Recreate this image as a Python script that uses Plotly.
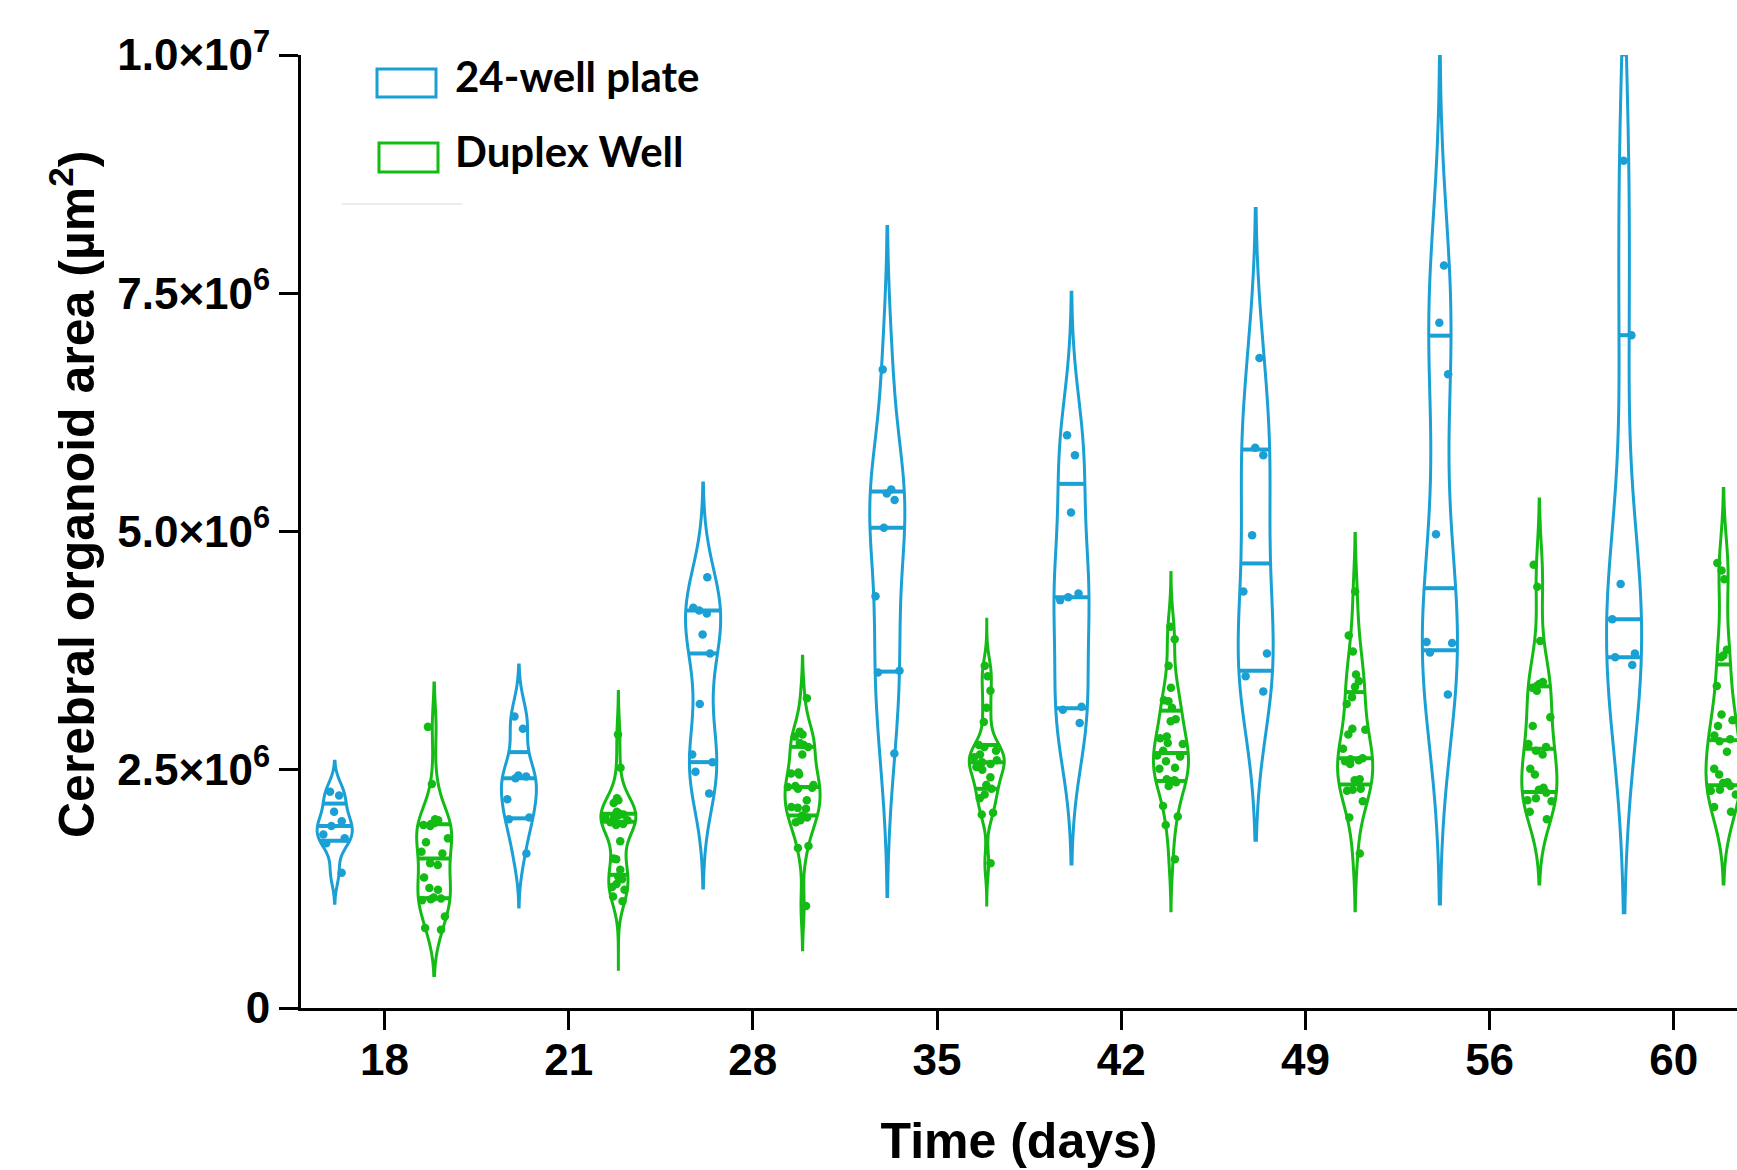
import math
import numpy as np
import plotly.graph_objects as go

# ---------------- data (µm²) ----------------
DAYS = ["18", "21", "28", "35", "42", "49", "56", "60"]

plate_18 = [2.27e6, 2.23e6, 2.06e6, 1.96e6, 1.91e6, 1.82e6, 1.78e6, 1.73e6, 1.42e6]
plate_21 = [3.06e6, 2.93e6, 2.44e6, 2.43e6, 2.41e6, 2.19e6, 2.00e6, 1.98e6, 1.62e6]
plate_28 = [4.52e6, 4.20e6, 4.17e6, 4.14e6, 3.92e6, 3.72e6, 3.19e6, 2.66e6, 2.58e6, 2.48e6, 2.25e6]
plate_35 = [6.70e6, 5.44e6, 5.40e6, 5.33e6, 5.04e6, 4.32e6, 3.54e6, 3.52e6, 2.67e6]
plate_42 = [6.01e6, 5.80e6, 5.20e6, 4.35e6, 4.31e6, 4.28e6, 3.16e6, 3.13e6, 2.99e6]
plate_49 = [6.82e6, 5.88e6, 5.80e6, 4.96e6, 4.37e6, 3.72e6, 3.48e6, 3.32e6]
plate_56 = [7.79e6, 7.19e6, 6.65e6, 4.97e6, 3.84e6, 3.83e6, 3.73e6, 3.29e6]
plate_60 = [8.89e6, 7.06e6, 4.45e6, 4.08e6, 3.72e6, 3.68e6, 3.60e6]

duplex_18 = [2.95e6, 2.35e6, 1.98e6, 1.97e6, 1.94e6, 1.93e6, 1.92e6, 1.91e6, 1.78e6, 1.74e6,
             1.64e6, 1.62e6, 1.52e6, 1.50e6, 1.37e6, 1.26e6, 1.24e6, 1.16e6, 1.15e6, 1.14e6,
             1.13e6, 0.96e6, 0.84e6, 0.82e6]
duplex_21 = [2.87e6, 2.52e6, 2.20e6, 2.18e6, 2.15e6, 2.06e6, 2.04e6, 2.03e6, 2.02e6, 2.01e6,
             2.00e6, 1.99e6, 1.97e6, 1.96e6, 1.95e6, 1.93e6, 1.92e6, 1.75e6, 1.57e6, 1.56e6,
             1.45e6, 1.38e6, 1.35e6, 1.30e6, 1.27e6, 1.24e6, 1.17e6, 1.12e6]
duplex_28 = [3.25e6, 2.90e6, 2.87e6, 2.85e6, 2.78e6, 2.76e6, 2.74e6, 2.66e6, 2.47e6, 2.46e6,
             2.45e6, 2.34e6, 2.33e6, 2.32e6, 2.31e6, 2.30e6, 2.18e6, 2.11e6, 2.10e6, 2.09e6,
             2.02e6, 2.00e6, 1.97e6, 1.95e6, 1.70e6, 1.68e6, 1.07e6]
duplex_35 = [3.59e6, 3.48e6, 3.33e6, 3.15e6, 3.00e6, 2.76e6, 2.74e6, 2.70e6, 2.66e6, 2.63e6,
             2.60e6, 2.58e6, 2.56e6, 2.53e6, 2.50e6, 2.42e6, 2.34e6, 2.30e6, 2.24e6, 2.20e6,
             2.05e6, 2.03e6, 1.52e6]
duplex_42 = [4.00e6, 3.87e6, 3.59e6, 3.36e6, 3.23e6, 3.22e6, 3.15e6, 3.03e6, 3.01e6, 2.85e6,
             2.83e6, 2.78e6, 2.77e6, 2.70e6, 2.65e6, 2.64e6, 2.59e6, 2.52e6, 2.51e6, 2.40e6,
             2.39e6, 2.38e6, 2.37e6, 2.33e6, 2.12e6, 2.01e6, 1.92e6, 1.56e6]
duplex_49 = [4.37e6, 3.91e6, 3.74e6, 3.50e6, 3.43e6, 3.37e6, 3.26e6, 3.19e6, 2.93e6, 2.92e6,
             2.87e6, 2.72e6, 2.62e6, 2.61e6, 2.60e6, 2.59e6, 2.56e6, 2.40e6, 2.39e6, 2.30e6,
             2.29e6, 2.28e6, 2.17e6, 2.00e6, 1.62e6]
duplex_56 = [4.65e6, 4.42e6, 3.85e6, 3.42e6, 3.40e6, 3.38e6, 3.36e6, 3.33e6, 3.05e6, 2.96e6,
             2.77e6, 2.74e6, 2.70e6, 2.66e6, 2.51e6, 2.45e6, 2.31e6, 2.29e6, 2.26e6, 2.20e6,
             2.18e6, 2.17e6, 2.06e6, 1.98e6]
duplex_60 = [4.67e6, 4.59e6, 4.50e6, 3.76e6, 3.70e6, 3.68e6, 3.38e6, 3.08e6, 3.02e6, 2.96e6,
             2.86e6, 2.82e6, 2.80e6, 2.69e6, 2.51e6, 2.45e6, 2.37e6, 2.36e6, 2.33e6, 2.29e6,
             2.28e6, 2.24e6, 2.11e6, 2.06e6]

# violin extents (tails)
plate_span_lo = [1.10e6, 1.06e6, 1.26e6, 1.17e6, 1.51e6, 1.76e6, 1.09e6, 1.00e6]
plate_span_hi = [2.59e6, 3.60e6, 5.51e6, 8.20e6, 7.51e6, 8.39e6, 10.0e6, 10.0e6]
duplex_span_lo = [0.34e6, 0.39e6, 0.61e6, 1.08e6, 1.02e6, 1.02e6, 1.30e6, 1.30e6]
duplex_span_hi = [3.41e6, 3.32e6, 3.69e6, 4.08e6, 4.57e6, 4.98e6, 5.34e6, 5.45e6]

Y_TICKS = [0, 2.5e6, 5.0e6, 7.5e6, 1.0e7]
Y_TICK_TEXT = ["0", "2.5×10<sup>6</sup>", "5.0×10<sup>6</sup>", "7.5×10<sup>6</sup>", "1.0×10<sup>7</sup>"]

SERIES_NAMES = ["24-well plate", "Duplex Well"]

# ---------------- styling ----------------
W, H = 1737, 1170
ML, MR, MT, MB = 301, 0, 55, 162
BLUE = "#1aa0d4"
GREEN = "#14bb14"
OFFSET = 0.27
VWIDTH = 0.19
BW_FACTOR = 0.78
TICKFONT = dict(family="Liberation Sans, Arial", size=44, color="black", weight="bold")
TITLEFONT = dict(family="Liberation Sans, Arial", size=50, color="black", weight="bold")
LEGENDFONT = dict(family="Lato", size=42, color="black", weight="bold")

groups = [
    dict(name=SERIES_NAMES[0], color=BLUE, off=-OFFSET,
         series=[plate_18, plate_21, plate_28, plate_35, plate_42, plate_49, plate_56, plate_60],
         lo=plate_span_lo, hi=plate_span_hi),
    dict(name=SERIES_NAMES[1], color=GREEN, off=OFFSET,
         series=[duplex_18, duplex_21, duplex_28, duplex_35, duplex_42, duplex_49, duplex_56, duplex_60],
         lo=duplex_span_lo, hi=duplex_span_hi),
]

PW = W - ML - MR
PH = H - MT - MB


def px_x(px):
    return (px - ML) / PW


def px_y(py):
    return 1 - (py - MT) / PH


def silverman(vals):
    v = np.sort(np.asarray(vals, float))
    n = len(v)
    sd = v.std(ddof=1)
    q1, q3 = np.percentile(v, [25, 75], method="hazen")
    a = min(sd, (q3 - q1) / 1.349) if q3 > q1 else sd
    return max(1.059 * a * n ** -0.2, (v.max() - v.min()) / 100)


def half_widths(vals, bw, lo, hi, qs, half):
    v = np.asarray(vals, float)

    def kde(t):
        t = np.atleast_1d(np.asarray(t, float))[:, None]
        return np.exp(-0.5 * ((t - v) / bw) ** 2).sum(axis=1) / (len(v) * bw * math.sqrt(2 * math.pi))

    dist = hi - lo
    n = math.ceil(dist / (bw / 3))
    step = dist / n
    grid = lo + step * np.arange(n + 1)
    return half * kde(qs) / kde(grid).max()


fig = go.Figure()
line_traces = []
for g in groups:
    lx, ly = [], []
    for i, vals in enumerate(g["series"]):
        pos = i + g["off"]
        bw = BW_FACTOR * silverman(vals)
        lo, hi = g["lo"][i], g["hi"][i]
        fig.add_trace(go.Violin(
            x=[pos] * len(vals), y=vals,
            name=g["name"], legendgroup=g["name"], showlegend=False,
            line=dict(color=g["color"], width=3),
            fillcolor="rgba(255,255,255,0)",
            width=VWIDTH, bandwidth=bw,
            spanmode="manual", span=[lo, hi],
            points="all", pointpos=0, jitter=0.9,
            marker=dict(color=g["color"], size=8.5),
            box=dict(visible=False), meanline=dict(visible=False),
            hoverinfo="y",
        ))
        qs = np.percentile(vals, [25, 50, 75], method="weibull")
        hw = half_widths(vals, bw, lo, hi, qs, VWIDTH / 2)
        for q, h in zip(qs, hw):
            lx += [pos - h, pos + h, None]
            ly += [q, q, None]
    line_traces.append(go.Scatter(x=lx, y=ly, mode="lines", showlegend=False,
                                  line=dict(color=g["color"], width=4), hoverinfo="skip"))
for t in line_traces:
    fig.add_trace(t)

# ---- legend (outlined key boxes + labels) ----
legend_boxes = [(377, 69, 436, 97), (379, 143, 438, 172)]
legend_text_y = [76, 151]
for g, (x0, y0, x1, y1), ty in zip(groups, legend_boxes, legend_text_y):
    fig.add_shape(type="rect", xref="paper", yref="paper",
                  x0=px_x(x0), x1=px_x(x1), y0=px_y(y1), y1=px_y(y0),
                  line=dict(color=g["color"], width=3), fillcolor="rgba(0,0,0,0)")
    fig.add_annotation(text=g["name"], xref="paper", yref="paper",
                       x=px_x(453), y=px_y(ty), xanchor="left", yanchor="middle",
                       showarrow=False, font=LEGENDFONT)
fig.add_shape(type="line", xref="paper", yref="paper",
              x0=px_x(342), x1=px_x(462), y0=px_y(204), y1=px_y(204),
              line=dict(color="#ececec", width=2))

# ---- y-axis title ----
fig.add_annotation(text="Cerebral organoid area (µm<sup>2</sup>)", xref="paper", yref="paper",
                   x=px_x(73), y=px_y(495), xanchor="center", yanchor="middle",
                   textangle=-90, showarrow=False, font=TITLEFONT)

fig.update_layout(
    width=W, height=H,
    margin=dict(l=ML, r=MR, t=MT, b=MB),
    paper_bgcolor="white", plot_bgcolor="white",
    violinmode="overlay",
    showlegend=False,
    xaxis=dict(
        range=[-0.453, 7.343],
        tickmode="array", tickvals=list(range(len(DAYS))), ticktext=DAYS,
        ticks="outside", ticklen=19, tickwidth=3, tickcolor="black",
        ticklabelstandoff=-8,
        showline=True, linewidth=3, linecolor="black",
        showgrid=False, zeroline=False, tickfont=TICKFONT,
        title=dict(text="Time (days)", font=TITLEFONT, standoff=41),
    ),
    yaxis=dict(
        range=[0, 1.0e7],
        tickmode="array", tickvals=Y_TICKS, ticktext=Y_TICK_TEXT,
        ticks="outside", ticklen=19, tickwidth=3, tickcolor="black",
        showline=True, linewidth=3, linecolor="black",
        showgrid=False, zeroline=False, tickfont=TICKFONT,
    ),
)

fig.write_html(
    "out.html",
    config={"displayModeBar": False},
    post_script="document.body.style.margin='0';document.body.style.overflow='hidden';",
)
